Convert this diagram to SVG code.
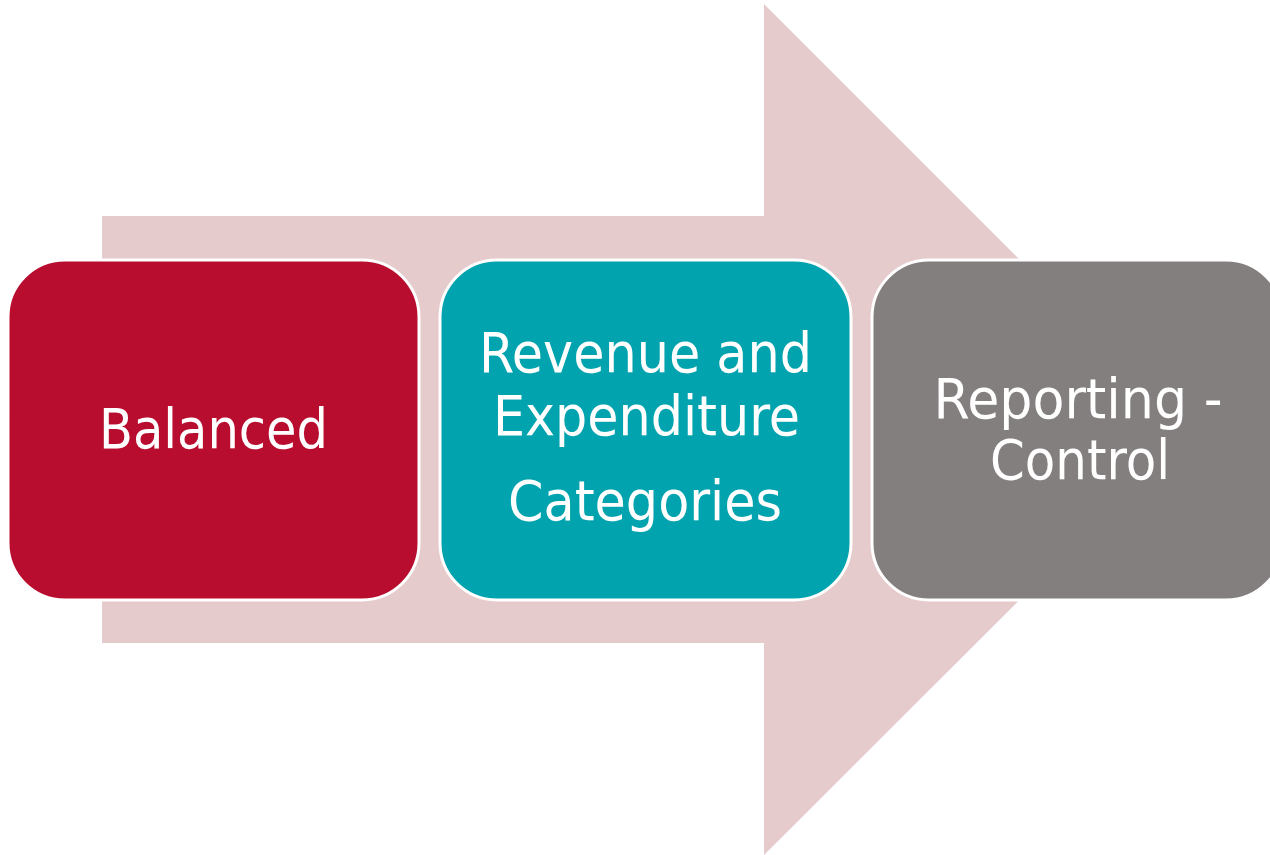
<svg xmlns="http://www.w3.org/2000/svg" width="1270" height="855" viewBox="0 0 1270 855">
  <style>
    .box { stroke: #ffffff; stroke-width: 3; }
    .lbl { fill: #ffffff; font-family: "DejaVu Sans Condensed", "DejaVu Sans", Verdana, sans-serif; font-stretch: condensed; font-size: 56px; text-anchor: middle; }
  </style>
  <rect width="1270" height="855" fill="#ffffff"/>
  <!-- background process arrow -->
  <g id="arrow">
    <polygon points="102,216 764,216 764,4 1190,430 764,855 764,643 102,643" fill="#E6CBCC"/>
  </g>
  <g id="connectors"></g>
  <g id="step-balanced">
    <rect class="box" x="8" y="260" width="411" height="340" rx="57" ry="57" fill="#B80D2F"/>
    <text class="lbl" x="213.5" y="448" textLength="229" lengthAdjust="spacingAndGlyphs">Balanced</text>
  </g>
  <g id="step-categories">
    <rect class="box" x="440" y="260" width="411" height="340" rx="57" ry="57" fill="#00A3AE"/>
    <text class="lbl" x="645.5" y="372" textLength="333" lengthAdjust="spacingAndGlyphs">Revenue and</text>
    <text class="lbl" x="646.5" y="435" textLength="307" lengthAdjust="spacingAndGlyphs">Expenditure</text>
    <text class="lbl" x="645" y="520" textLength="274" lengthAdjust="spacingAndGlyphs">Categories</text>
  </g>
  <g id="step-reporting">
    <rect class="box" x="872" y="260" width="411" height="340" rx="57" ry="57" fill="#837F7E"/>
    <text class="lbl" x="1078" y="418" textLength="289" lengthAdjust="spacingAndGlyphs">Reporting -</text>
    <text class="lbl" x="1080" y="479" textLength="180" lengthAdjust="spacingAndGlyphs">Control</text>
  </g>
</svg>
